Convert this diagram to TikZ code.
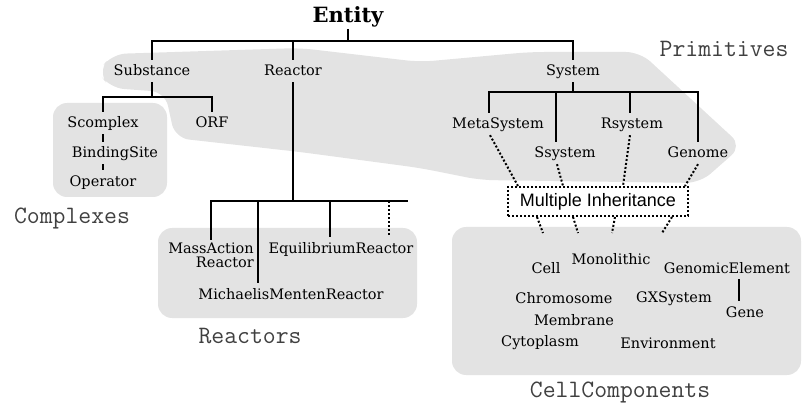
\documentclass[tikz,border=0pt]{standalone}
\usepackage{fontspec}
\setmainfont{DejaVu Serif}
\setsansfont{Liberation Sans}

\begin{document}
\begin{tikzpicture}[x=1pt,y=-1pt]
   \tikzset{Class/.style = {font=\fontsize{14.5}{16}\selectfont, anchor=base, inner sep=3pt, text height=13pt, text depth=3pt}}
   \tikzset{TwoLine/.style = {font=\fontsize{14.5}{14}\selectfont, align=right, inner sep=3pt}}
   \tikzset{Top/.style = {font=\fontsize{21}{24}\selectfont\bfseries, anchor=base, inner sep=1pt}}
   \tikzset{Group/.style = {font=\ttfamily\fontsize{25}{27}\selectfont, text=black!75, anchor=base}}
   \tikzset{Region/.style = {fill=black!11, rounded corners=14pt}}
   \tikzset{Tree/.style = {line width=2.6pt}}
   \tikzset{Inh/.style = {line width=2pt, dash pattern=on 2pt off 2pt}}
   \tikzset{MultiBox/.style = {Inh, draw, font=\sffamily\fontsize{18}{20}\selectfont, minimum width=180pt, minimum height=29pt, inner sep=0pt}}
\useasboundingbox (0,0) rectangle (804,409);

   \fill[Region] (98,72) -- (112,54) -- (300,48) -- (420,62) -- (530,52) -- (640,52) -- (742,146)
      -- (700,183) -- (480,180) -- (420,168) -- (300,152) -- (175,138) -- (165,92) -- (110,88) -- cycle;
   \fill[Region] (53,103) rectangle (167,197);
   \fill[Region] (158,228) rectangle (417,318);
   \fill[Region] (452,227) rectangle (801,375);
%
   \node[Top] (entity) at (348,23) {Entity};
   \node[Class] (substance) at (152,76) {Substance};
   \node[Class] (reactor) at (293,76) {Reactor};
   \node[Class] (system) at (573,76) {System};
   \node[Class] (scomplex) at (103,128) {Scomplex};
   \node[Class] (orf) at (212,128) {ORF};
   \node[Class] (bindingsite) at (115,158) {BindingSite};
   \node[Class] (operator) at (103,186) {Operator};
   \node[Class] (metasystem) at (498,129) {MetaSystem};
   \node[Class] (ssystem) at (565,158) {Ssystem};
   \node[Class] (rsystem) at (632,129) {Rsystem};
   \node[Class] (genome) at (698,158) {Genome};
   \node[TwoLine, anchor=north] (massaction) at (211,240) {MassAction\\Reactor};
   \node[Class] (equil) at (341,253) {EquilibriumReactor};
   \node[Class] (mm) at (291,299) {MichaelisMentenReactor};
   \node[MultiBox] (multinh) at (598,201.5) {Multiple Inheritance};
   \node[Class] (cell) at (546,273) {Cell};
   \node[Class] (monolithic) at (611,265) {Monolithic};
   \node[Class] (genomic) at (727,273) {GenomicElement};
   \node[Class] (gene) at (745,317) {Gene};
   \node[Class] (chromosome) at (564,303) {Chromosome};
   \node[Class] (gxsystem) at (674,302) {GXSystem};
   \node[Class] (membrane) at (574,325) {Membrane};
   \node[Class] (cytoplasm) at (540,346) {Cytoplasm};
   \node[Class] (environment) at (668,348) {Environment};

   \node[Group] (primitives) at (724,57) {Primitives};
   \node[Group] (complexes) at (72,223) {Complexes};
   \node[Group] (reactors) at (250,343) {Reactors};
   \node[Group] (cellcomp) at (620,397) {CellComponents};
%
   \coordinate (ebar) at (348,41);
	\draw[Tree] (entity.south) -- (ebar);
	\draw[Tree] (substance.north) |- (ebar);
	\draw[Tree] (system.north) |- (ebar);
	\draw[Tree] (reactor.north) -- (reactor.north |- ebar);
%
   \coordinate (sbar) at (152,97);
	\draw[Tree] (substance.south) -- (sbar);
	\draw[Tree] (scomplex.north) |- (sbar);
	\draw[Tree] (orf.north) |- (sbar);
	\draw[Tree] (scomplex.south) -- (scomplex.south |- bindingsite.north);
	\draw[Tree] (operator.north) -- (operator.north |- bindingsite.south);
%
   \coordinate (rbar) at (293,201);
   \coordinate (rend) at (408,201);
   \coordinate (rmore) at (389,235);
	\draw[Tree] (reactor.south) -- (rbar);
	\draw[Tree] (massaction.north) |- (rend);
	\draw[Tree] ([xshift=-33pt]mm.north) -- ([xshift=-33pt]mm.north |- rbar);
	\draw[Tree] ([xshift=-11pt]equil.north) -- ([xshift=-11pt]equil.north |- rbar);
	\draw[Inh] (rmore) -- (rmore |- rbar);
%
   \coordinate (sysbar) at (573,92);
	\draw[Tree] (system.south) -- (sysbar);
	\draw[Tree] ([xshift=-9pt]metasystem.north) |- (sysbar);
	\draw[Tree] ([xshift=-9pt]ssystem.north) |- (sysbar);
	\draw[Tree] ([xshift=-2pt]rsystem.north) |- (sysbar);
	\draw[Tree] (genome.north) |- (sysbar);
%
	\draw[Inh] ([xshift=-8pt]metasystem.south) -- ([xshift=-80pt]multinh.north);
	\draw[Inh] ([xshift=-8pt]ssystem.south) -- ([xshift=-35pt]multinh.north);
	\draw[Inh] ([xshift=-2pt]rsystem.south) -- ([xshift=25pt]multinh.north);
	\draw[Inh] (genome.south) -- ([xshift=87pt]multinh.north);
	\foreach \a/\b in {-61/6,-25/5,17/-3,74/-10}
	   \draw[Inh] ([xshift=\a pt]multinh.south) -- ++(\b,16);
%
	\draw[Tree] ([xshift=12pt]genomic.south) -- ([xshift=-6pt]gene.north);
\end{tikzpicture}
\end{document}
